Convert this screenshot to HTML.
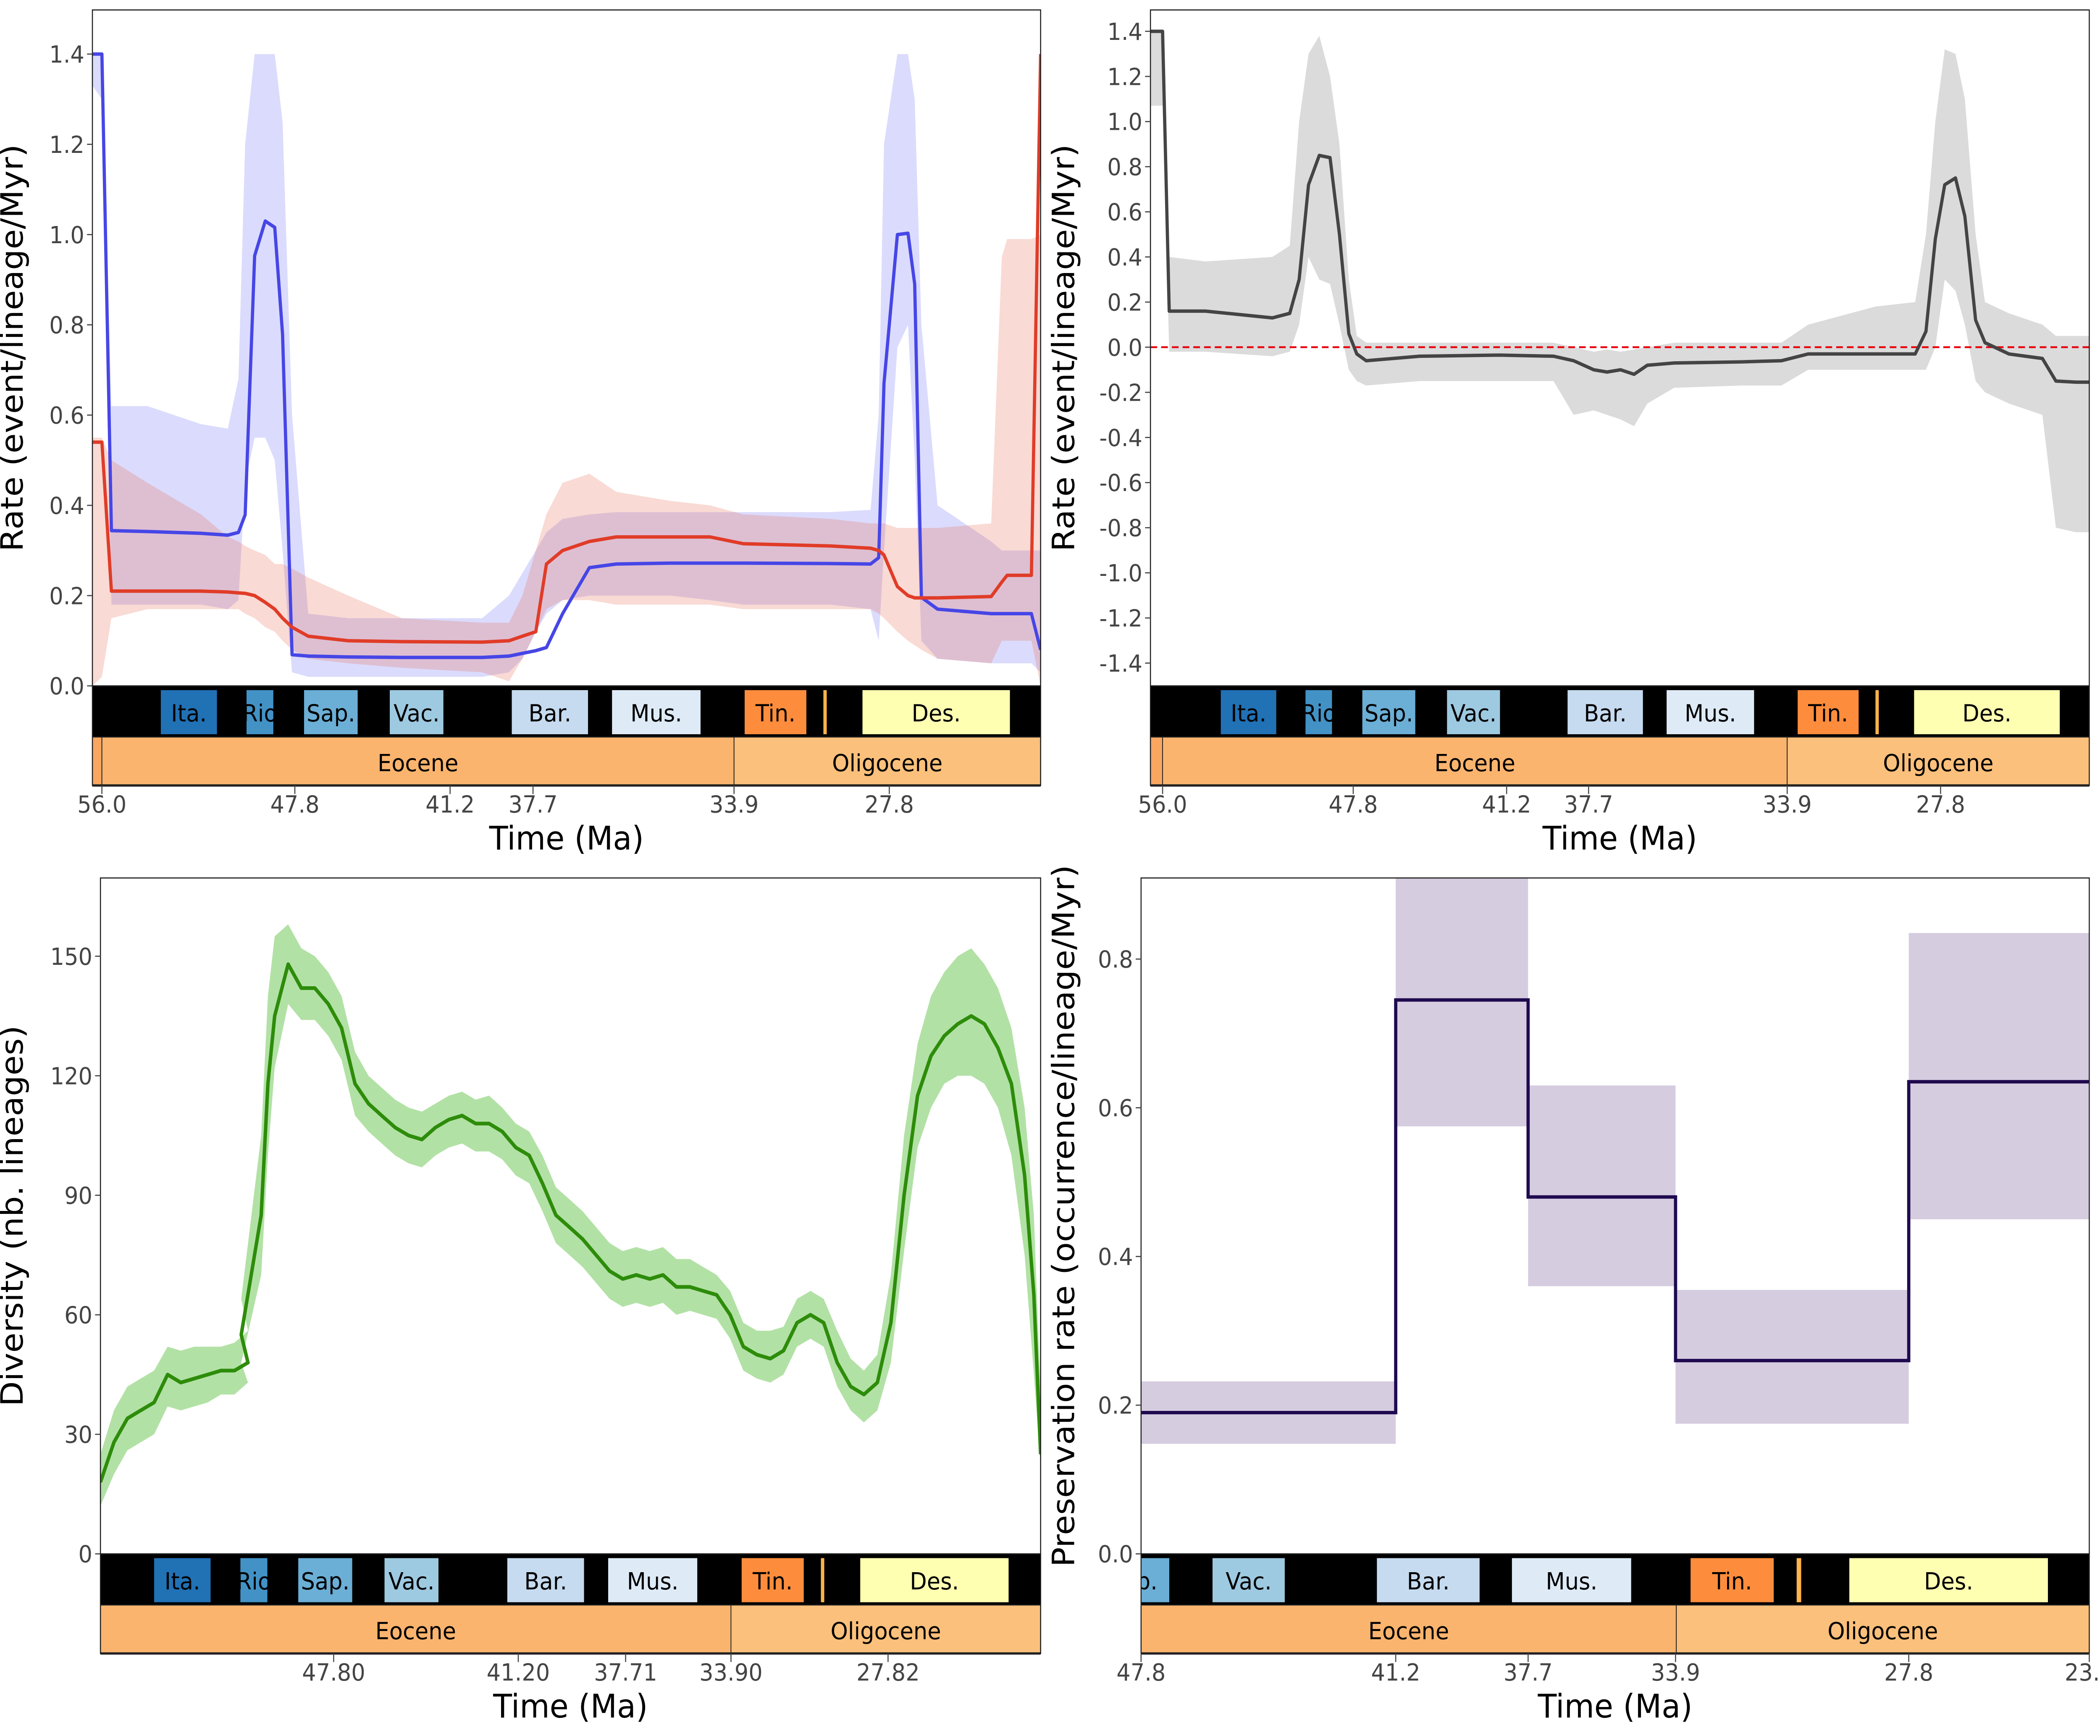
<!DOCTYPE html>
<html><head><meta charset="utf-8"><style>
html,body{margin:0;padding:0;background:#fff;width:100%;height:100%;overflow:hidden;}
svg{display:block;position:fixed;left:0;top:0;width:100vw;height:100vh;font-family:"DejaVu Sans","Liberation Sans",sans-serif;}
</style></head><body>
<svg id="fig" xmlns="http://www.w3.org/2000/svg" viewBox="0 0 1568 1220" preserveAspectRatio="none">
<rect x="0" y="0" width="1568" height="1220" fill="#fff"/>
</svg>
<script>
// ---------- Top-left: speciation (blue) / extinction (red) ----------
const rateAges = [56.34,56.0,55.66,54.37,52.45,51.49,51.11,50.87,50.53,50.15,49.81,49.53,49.19,48.61,47.18,45.26,42.38,41.42,40.94,40.46,40.08,39.50,38.54,37.58,35.66,34.22,33.03,29.91,28.47,28.18,27.99,27.51,27.13,26.89,26.65,26.07,24.15,23.77,23.58,22.71,22.38];
const specRate = [1.40,1.40,0.344,0.342,0.338,0.334,0.34,0.379,0.953,1.03,1.016,0.779,0.069,0.066,0.064,0.063,0.063,0.066,0.072,0.078,0.085,0.16,0.262,0.27,0.272,0.272,0.272,0.271,0.27,0.284,0.67,1.0,1.003,0.89,0.196,0.17,0.16,0.16,0.16,0.16,0.08];
const specHi = [1.40,1.40,0.62,0.62,0.58,0.57,0.68,1.2,1.4,1.4,1.4,1.25,0.6,0.16,0.15,0.15,0.15,0.2,0.25,0.3,0.34,0.37,0.38,0.385,0.385,0.385,0.385,0.385,0.39,0.6,1.2,1.4,1.4,1.3,0.8,0.4,0.32,0.3,0.3,0.3,0.3];
const specLo = [1.33,1.3,0.18,0.18,0.18,0.17,0.19,0.45,0.55,0.55,0.5,0.3,0.03,0.02,0.02,0.02,0.02,0.03,0.06,0.12,0.16,0.19,0.2,0.2,0.2,0.19,0.18,0.18,0.17,0.1,0.3,0.75,0.8,0.5,0.1,0.06,0.05,0.05,0.05,0.05,0.03];
const extRate = [0.54,0.54,0.21,0.21,0.21,0.208,0.206,0.205,0.2,0.185,0.17,0.15,0.13,0.11,0.10,0.098,0.097,0.1,0.11,0.12,0.27,0.3,0.32,0.33,0.33,0.33,0.315,0.31,0.305,0.3,0.29,0.22,0.2,0.195,0.195,0.195,0.198,0.23,0.245,0.245,1.4];
const extHi = [0.55,0.55,0.5,0.45,0.38,0.33,0.32,0.31,0.3,0.29,0.27,0.27,0.26,0.24,0.2,0.15,0.14,0.14,0.2,0.3,0.38,0.45,0.47,0.43,0.41,0.4,0.38,0.37,0.36,0.36,0.36,0.35,0.35,0.35,0.35,0.35,0.36,0.95,0.99,0.99,1.0];
const extLo = [0.0,0.02,0.15,0.17,0.17,0.17,0.17,0.16,0.15,0.13,0.12,0.1,0.08,0.06,0.05,0.04,0.03,0.01,0.06,0.12,0.17,0.19,0.19,0.18,0.18,0.18,0.17,0.17,0.17,0.16,0.15,0.12,0.1,0.09,0.08,0.06,0.05,0.1,0.1,0.1,0.0];
const rateTicks = [0,0.2,0.4,0.6,0.8,1.0,1.2,1.4];
// ---------- Top-right: net diversification ----------
const netAges = [56.44,56.0,55.76,54.45,52.02,51.39,51.05,50.71,50.32,49.93,49.59,49.25,48.96,48.62,46.68,43.77,41.83,41.1,40.37,39.89,39.40,38.91,38.43,37.46,35.03,33.57,32.6,30.17,28.72,28.33,27.99,27.65,27.26,26.92,26.53,26.19,25.32,24.11,23.62,22.89,22.41];
const netRate = [1.4,1.4,0.16,0.16,0.13,0.15,0.3,0.72,0.85,0.84,0.5,0.06,-0.03,-0.06,-0.04,-0.035,-0.04,-0.06,-0.1,-0.11,-0.1,-0.12,-0.08,-0.07,-0.065,-0.06,-0.03,-0.03,-0.03,0.07,0.48,0.72,0.75,0.58,0.12,0.02,-0.03,-0.05,-0.15,-0.155,-0.155];
const netHi = [1.4,1.4,0.4,0.38,0.4,0.45,1.0,1.3,1.38,1.2,0.9,0.3,0.05,0.02,0.02,0.02,0.02,0.0,-0.02,-0.01,-0.02,-0.01,0.0,0.02,0.02,0.02,0.1,0.18,0.2,0.5,1.0,1.32,1.3,1.1,0.5,0.2,0.15,0.1,0.05,0.05,0.05];
const netLo = [1.07,1.07,-0.02,-0.02,-0.04,-0.02,0.1,0.4,0.3,0.28,0.1,-0.1,-0.15,-0.17,-0.15,-0.15,-0.15,-0.3,-0.28,-0.3,-0.32,-0.35,-0.25,-0.18,-0.17,-0.17,-0.1,-0.1,-0.1,-0.1,0.0,0.3,0.25,0.1,-0.15,-0.2,-0.25,-0.3,-0.8,-0.82,-0.82];
const netTicks = [1.4,1.2,1.0,0.8,0.6,0.4,0.2,0.0,-0.2,-0.4,-0.6,-0.8,-1.0,-1.2,-1.4];
// ---------- Bottom-left: diversity ----------
const divAges = [55.80,55.32,54.84,54.37,53.89,53.41,52.94,52.46,51.98,51.51,51.03,50.55,50.79,50.08,49.84,49.60,49.12,48.65,48.17,47.69,47.22,46.74,46.26,45.79,45.31,44.83,44.36,43.88,43.40,42.93,42.45,41.97,41.50,41.02,40.54,40.07,39.59,39.11,38.64,38.16,37.68,37.21,36.73,36.25,35.78,35.30,34.82,34.35,33.87,33.39,32.92,32.44,31.96,31.49,31.01,30.53,30.06,29.58,29.10,28.63,28.15,27.67,27.20,26.72,26.24,25.77,25.29,24.81,24.34,23.86,23.38,22.91,22.58,22.34];
const divMean = [18,28,34,36,38,45,43,44,45,46,46,48,55,85,118,135,148,142,142,138,132,118,113,110,107,105,104,107,109,110,108,108,106,102,100,93,85,82,79,75,71,69,70,69,70,67,67,66,65,60,52,50,49,51,58,60,58,48,42,40,43,58,90,115,125,130,133,135,133,127,118,95,65,25];
const divHi = [25,36,42,44,46,52,51,52,52,52,53,56,64,105,140,155,158,152,150,146,140,126,120,117,114,112,111,113,115,116,114,115,112,108,106,100,92,89,86,82,78,76,77,76,77,74,74,72,70,66,58,56,56,57,64,66,64,56,49,46,50,70,105,128,140,146,150,152,148,142,132,112,85,40];
const divLo = [12,20,26,28,30,37,36,37,38,40,40,43,48,70,100,122,138,134,134,130,124,110,106,103,100,98,97,100,102,103,101,101,99,95,93,86,78,75,72,68,64,62,63,62,63,60,61,60,59,54,46,44,43,45,52,54,52,42,36,33,36,48,76,102,112,118,120,120,118,112,100,75,45,22];
const divTicks = [0,30,60,90,120,150];
// ---------- Bottom-right: preservation ----------
const presBins = [47.59,40.82,37.30,33.38,27.18,22.38];
const presMean = [0.19,0.745,0.48,0.26,0.635];
const presHi = [0.232,0.92,0.63,0.355,0.835];
const presLo = [0.148,0.575,0.36,0.175,0.45];
const presTicks = [0.0,0.2,0.4,0.6,0.8];
// ---------- Shared time scale annotations ----------
const stageNames = ["Ita.","Rio","Sap.","Vac.","Bar.","Mus.","Tin.","","Des."];
const stageStart = [53.89,50.82,48.76,45.69,41.32,37.73,32.98,30.16,28.76];
const stageEnd   = [51.88,49.86,46.84,43.77,38.59,34.56,30.77,30.04,23.48];
const stageColors = ["#2171b5","#4292c6","#6baed6","#9ecae1","#c6dbef","#deebf7","#fd8d3c","#fdb44a","#ffffb2"];
const timeTickAges = [56.0,49.09,43.53,40.56,33.36,27.80];
const timeTickLabels = ["56.0","47.8","41.2","37.7","33.9","27.8"];
const divTickAges = [47.50,40.93,37.11,33.36,27.77];
const divTickLabels = ["47.80","41.20","37.71","33.90","27.82"];
const presTickAges = [47.59,40.82,37.30,33.38,27.18,22.38];
const presTickLabels = ["47.8","41.2","37.7","33.9","27.8","23.0"];

const NS="http://www.w3.org/2000/svg";
const svg=document.getElementById('fig');
function mk(tag,attrs,parent){const e=document.createElementNS(NS,tag);for(const k in attrs)e.setAttribute(k,attrs[k]);(parent||svg).appendChild(e);return e;}
function mkText(str,attrs,parent){const e=mk('text',attrs,parent);e.textContent=str;return e;}

function makePanel(id,cfg){
  const p={...cfg};
  p.x=t=>cfg.x0+(cfg.tL-t)/(cfg.tL-cfg.tR)*(cfg.x1-cfg.x0);
  p.y=v=>cfg.yBot+(v-cfg.vMin)/(cfg.vMax-cfg.vMin)*(cfg.yTop-cfg.yBot);
  const g=mk('g',{});
  
  
  p.g=g;
  const cp=mk('clipPath',{id:id+'-clip'},g);
  mk('rect',{x:cfg.x0,y:cfg.plotTop,width:cfg.x1-cfg.x0,height:cfg.plotBot-cfg.plotTop},cp);
  const cp2=mk('clipPath',{id:id+'-clip2'},g);
  mk('rect',{x:cfg.x0,y:cfg.plotBot,width:cfg.x1-cfg.x0,height:72},cp2);
  p.plot=mk('g',{'clip-path':'url(#'+id+'-clip)'},g);
  return p;
}
function band(p,ages,lo,hi,fill,op,name){
  let d='M'+ages.map((t,i)=>p.x(t).toFixed(2)+','+p.y(hi[i]).toFixed(2)).join('L');
  for(let i=ages.length-1;i>=0;i--)d+='L'+p.x(ages[i]).toFixed(2)+','+p.y(lo[i]).toFixed(2);
  const e=mk('path',{d:d+'Z',fill:fill,'fill-opacity':op,stroke:'none'},p.plot);
  
  
}
function line(p,ages,vals,color,w,name){
  const d='M'+ages.map((t,i)=>p.x(t).toFixed(2)+','+p.y(vals[i]).toFixed(2)).join('L');
  const e=mk('path',{d:d,fill:'none',stroke:color,'stroke-width':w,'stroke-linejoin':'round'},p.plot);
  
  
}
function frame(p){
  const f=mk('rect',{x:p.x0,y:p.plotTop,width:p.x1-p.x0,height:p.plotBot-p.plotTop,fill:'none',stroke:'#222','stroke-width':0.8},p.g);
  
  
}
function yAxis(p,ticks,fmt,title,titleX){
  ticks.forEach(v=>{
    const yy=p.y(v);
    mk('line',{x1:p.x0-4,x2:p.x0,y1:yy,y2:yy,stroke:'#444','stroke-width':0.8},p.g);
    const t=mkText(fmt(v),{x:p.x0-6,y:yy+6,'text-anchor':'end','font-size':16.5,fill:'#444'},p.g);
    
    
  });
  const cy=(p.plotTop+p.plotBot)/2;
  const t=mkText(title,{x:titleX,y:cy,'text-anchor':'middle','font-size':23,fill:'#000',transform:'rotate(-90 '+titleX+' '+cy+')'},p.g);
  
  
}
function timeBars(p,tickAges,tickLabels,titleY){
  const yb=p.plotBot;
  const bg=mk('g',{'clip-path':'url(#'+p.id+'-clip2)'},p.g);
  const blk=mk('rect',{x:p.x0,y:yb,width:p.x1-p.x0,height:36,fill:'#000'},bg);
  
  
  stageNames.forEach((n,i)=>{
    const xa=p.x(stageStart[i]),xb=p.x(stageEnd[i]);
    const r=mk('rect',{x:xa,y:yb+3,width:xb-xa,height:31,fill:stageColors[i]},bg);
    
    
    if(n){const t=mkText(n,{x:(xa+xb)/2,y:yb+25,'text-anchor':'middle','font-size':16.5,fill:'#000'},bg);
      
      }
  });
  const ey=yb+36;
  const xs=p.x(56.0),xb=p.x(33.36);
  mk('rect',{x:p.x0,y:ey,width:p.x1-p.x0,height:34,fill:'#fbb46e',stroke:'#222','stroke-width':0.8},bg);
  if(xs>p.x0) mk('rect',{x:p.x0,y:ey,width:xs-p.x0,height:34,fill:'#f9a661',stroke:'#222','stroke-width':0.6},bg);
  const eo=mk('rect',{x:Math.max(xs,p.x0),y:ey,width:xb-Math.max(xs,p.x0),height:34,fill:'#fbb46e',stroke:'#222','stroke-width':0.6},bg);
  
  
  const ol=mk('rect',{x:xb,y:ey,width:p.x1-xb,height:34,fill:'#fbc07b',stroke:'#222','stroke-width':0.6},bg);
  
  
  const te=mkText('Eocene',{x:(Math.max(xs,p.x0)+xb)/2,y:ey+24,'text-anchor':'middle','font-size':16.5,fill:'#000'},bg);
  
  
  const to=mkText('Oligocene',{x:(xb+p.x1)/2,y:ey+24,'text-anchor':'middle','font-size':16.5,fill:'#000'},bg);
  
  
  mk('line',{x1:p.x0,x2:p.x1,y1:ey+34,y2:ey+34,stroke:'#222','stroke-width':1.6},p.g);
  mk('rect',{x:p.x0,y:yb,width:p.x1-p.x0,height:70,fill:'none',stroke:'#222','stroke-width':0.8},p.g);
  tickAges.forEach((a,i)=>{
    const xx=p.x(a);
    mk('line',{x1:xx,x2:xx,y1:ey+34,y2:ey+40,stroke:'#444','stroke-width':0.8},p.g);
    const t=mkText(tickLabels[i],{x:xx,y:ey+53,'text-anchor':'middle','font-size':16.5,fill:'#444'},p.g);
    
    
  });
  const tt=mkText('Time (Ma)',{x:(p.x0+p.x1)/2,y:titleY,'text-anchor':'middle','font-size':23,fill:'#000'},p.g);
  
  
}

// Top-left
const tl=makePanel('rates-panel',{id:'rates-panel',x0:69,x1:777,tL:56.34,tR:22.38,plotTop:7,plotBot:482,yBot:482,yTop:38,vMin:0,vMax:1.4});
band(tl,rateAges,specLo,specHi,'#5a5af5',0.22,'speciation-ci-band');
band(tl,rateAges,extLo,extHi,'#e8705a',0.26,'extinction-ci-band');
line(tl,rateAges,specRate,'#4646e6',2.4,'speciation-line');
line(tl,rateAges,extRate,'#e03c28',2.4,'extinction-line');
frame(tl);
yAxis(tl,rateTicks,v=>v.toFixed(1),'Rate (event/lineage/Myr)',17);
timeBars(tl,timeTickAges,timeTickLabels,597);

// Top-right
const tr=makePanel('net-rate-panel',{id:'net-rate-panel',x0:859,x1:1560,tL:56.44,tR:22.41,plotTop:7,plotBot:482,yBot:466,yTop:22,vMin:-1.4,vMax:1.4});
band(tr,netAges,netLo,netHi,'#cfcfcf',0.75,'net-rate-ci-band');
const zl=mk('line',{x1:859,x2:1560,y1:tr.y(0),y2:tr.y(0),stroke:'#e8000b','stroke-width':1.3,'stroke-dasharray':'5,3'},tr.plot);


line(tr,netAges,netRate,'#444',2.4,'net-rate-line');
frame(tr);
yAxis(tr,netTicks,v=>v.toFixed(1).replace('-0.0','0.0'),'Rate (event/lineage/Myr)',802);
timeBars(tr,timeTickAges,timeTickLabels,597);

// Bottom-left
const bl=makePanel('diversity-panel',{id:'diversity-panel',x0:75,x1:777,tL:55.80,tR:22.34,plotTop:617,plotBot:1092,yBot:1092,yTop:672,vMin:0,vMax:150});
band(bl,divAges,divLo,divHi,'#9fd98e',0.8,'diversity-ci-band');
line(bl,divAges,divMean,'#2d8c0a',2.6,'diversity-line');
frame(bl);
yAxis(bl,divTicks,v=>String(v),'Diversity (nb. lineages)',17);
timeBars(bl,divTickAges,divTickLabels,1207);

// Bottom-right
const br=makePanel('preservation-panel',{id:'preservation-panel',x0:852,x1:1560,tL:47.59,tR:22.38,plotTop:617,plotBot:1092,yBot:1092,yTop:674,vMin:0,vMax:0.8});
presMean.forEach((m,i)=>{
  const xa=br.x(presBins[i]),xb=br.x(presBins[i+1]);
  const r=mk('rect',{x:xa,y:br.y(presHi[i]),width:xb-xa,height:br.y(presLo[i])-br.y(presHi[i]),fill:'#d5cce0'},br.plot);
  
  
});
{
  let d='';
  presMean.forEach((m,i)=>{
    const xa=br.x(presBins[i]),xb=br.x(presBins[i+1]),yy=br.y(m);
    d+=(i===0?'M':'L')+xa+','+yy+'L'+xb+','+yy;
  });
  const e=mk('path',{d:d,fill:'none',stroke:'#1f0a4f','stroke-width':2.4},br.plot);
  
  
}
frame(br);
yAxis(br,presTicks,v=>v.toFixed(1),'Preservation rate (occurrence/lineage/Myr)',802);
timeBars(br,presTickAges,presTickLabels,1207);
</script>
</body></html>
